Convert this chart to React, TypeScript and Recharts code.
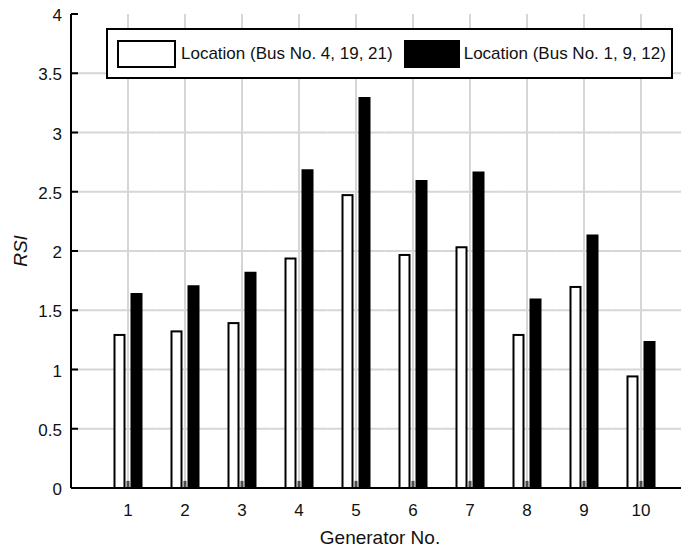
import React from 'react';
import { BarChart, Bar, XAxis, YAxis, Legend } from 'recharts';

const generators = ['1', '2', '3', '4', '5', '6', '7', '8', '9', '10'];
const locationA = [1.3, 1.33, 1.4, 1.945, 2.48, 1.975, 2.04, 1.3, 1.705, 0.95];
const locationB = [1.645, 1.71, 1.825, 2.69, 3.3, 2.6, 2.67, 1.6, 2.14, 1.24];
const baseMark = [0.06, 0.06, 0.06, 0.06, 0.06, 0.06, 0.06, 0.06, 0.06, 0.06];
const yTicks = [0, 0.5, 1, 1.5, 2, 2.5, 3, 3.5, 4];
const gridY = [0.5, 1, 1.5, 2, 2.5, 3, 3.5];
const seriesNames = ['Location (Bus No. 4, 19, 21)', 'Location (Bus No. 1, 9, 12)'];

const data = generators.map((g, i) => ({
  gen: g,
  a: locationA[i],
  c: baseMark[i],
  b: locationB[i],
}));

const FONT = '"Liberation Sans", Arial, Helvetica, sans-serif';
const GRID = '#d6d6d6';
const W_A = 12;
const W_C = 3;
const W_B = 12;
const GAP = 1;
const HALF_BAND = 28.5;
const Y_MAX = 4;

const YTick = (props: any) => {
  const { x, y, payload } = props;
  return (
    <g>
      <line x1={x} x2={x + 7} y1={y} y2={y} stroke="#000" strokeWidth={2} />
      <text x={x - 9} y={y} dy={7} textAnchor="end" fontSize={17} fontFamily={FONT} fill="#111">
        {payload.value}
      </text>
    </g>
  );
};

const XTick = (props: any) => {
  const { x, y, payload } = props;
  return (
    <text x={x} y={y + 28} textAnchor="middle" fontSize={17} fontFamily={FONT} fill="#111">
      {payload.value}
    </text>
  );
};

const TopTick = (props: any) => {
  const { x, y } = props;
  return <line x1={x} x2={x} y1={y} y2={y + 7} stroke="#000" strokeWidth={2} />;
};

// White bar; it also draws the grid of its own category band beneath itself
const WhiteBar = (props: any) => {
  const { x, y, width, height, payload } = props;
  if (!height || height <= 0) return null;
  const val = payload && typeof payload.a === 'number' ? payload.a : 0;
  let idx = typeof props.index === 'number' ? props.index : -1;
  if (idx < 0 && payload) idx = generators.indexOf(payload.gen);
  const baseY = y + height;
  const k = val > 0 ? height / val : 0;
  const center = x + W_A + GAP + W_C / 2;
  const left = center - HALF_BAND - (idx === 0 ? HALF_BAND : 0);
  const right = center + HALF_BAND + (idx === generators.length - 1 ? HALF_BAND : 0);
  return (
    <g>
      {k > 0 &&
        gridY.map((v) => (
          <line
            key={v}
            x1={left}
            x2={right}
            y1={baseY - v * k}
            y2={baseY - v * k}
            stroke={GRID}
            strokeWidth={2}
          />
        ))}
      {k > 0 && (
        <line x1={center} x2={center} y1={baseY - Y_MAX * k} y2={baseY} stroke={GRID} strokeWidth={2} />
      )}
      <rect
        x={x + 1}
        y={y + 1}
        width={Math.max(width - 2, 0)}
        height={Math.max(height - 1, 0)}
        fill="#fff"
        stroke="#000"
        strokeWidth={2}
      />
    </g>
  );
};

const LegendBox = () => (
  <div
    style={{
      boxSizing: 'border-box',
      width: 567,
      height: 51,
      border: '2px solid #000',
      background: '#fff',
      display: 'flex',
      alignItems: 'center',
      paddingLeft: 9,
      fontFamily: FONT,
      fontSize: 17,
      color: '#111',
      whiteSpace: 'nowrap',
    }}
  >
    <div
      style={{
        boxSizing: 'border-box',
        width: 59,
        height: 28,
        border: '2.5px solid #000',
        background: '#fff',
        marginRight: 5,
      }}
    />
    <span>{seriesNames[0]}</span>
    <div
      style={{
        boxSizing: 'border-box',
        width: 56,
        height: 28,
        background: '#000',
        marginLeft: 11,
        marginRight: 4,
      }}
    />
    <span>{seriesNames[1]}</span>
  </div>
);

export default function App() {
  return (
    <div style={{ width: 689, height: 551, overflow: 'hidden', position: 'relative', margin: '-8px 0 0 -8px' }}>
      <BarChart
        width={708}
        height={551}
        data={data}
        margin={{ top: 14, right: 10, left: 0, bottom: 0 }}
        barGap={GAP}
      >
        <XAxis
          dataKey="gen"
          height={63}
          padding={{ left: HALF_BAND, right: HALF_BAND }}
          tickSize={0}
          tickMargin={0}
          tick={<XTick />}
          axisLine={{ stroke: '#000', strokeWidth: 2 }}
          tickLine={false}
          interval={0}
          label={{
            content: () => (
              <text x={380} y={544} textAnchor="middle" fontSize={19} fontFamily={FONT} fill="#111">
                Generator No.
              </text>
            ),
          }}
        />
        <XAxis
          xAxisId="top"
          dataKey="gen"
          orientation="top"
          height={0}
          padding={{ left: HALF_BAND, right: HALF_BAND }}
          tickSize={0}
          tickMargin={0}
          tick={<TopTick />}
          axisLine={{ stroke: '#000', strokeWidth: 2 }}
          tickLine={false}
          interval={0}
        />
        <YAxis
          width={71}
          domain={[0, Y_MAX]}
          ticks={yTicks}
          tickSize={0}
          tickMargin={0}
          tick={<YTick />}
          axisLine={{ stroke: '#000', strokeWidth: 2 }}
          tickLine={false}
          interval={0}
          label={{
            content: () => (
              <text
                x={0}
                y={0}
                transform="translate(27 251) rotate(-90)"
                textAnchor="middle"
                fontSize={19}
                fontStyle="italic"
                fontFamily={FONT}
                fill="#111"
              >
                RSI
              </text>
            ),
          }}
        />
        <Legend
          layout="horizontal"
          verticalAlign="middle"
          align="center"
          wrapperStyle={{ top: 28, left: 106, width: 567, height: 51 }}
          content={() => <LegendBox />}
        />
        <Bar dataKey="a" barSize={W_A} shape={<WhiteBar />} isAnimationActive={false} />
        <Bar dataKey="c" barSize={W_C} fill="#4d4d4d" legendType="none" isAnimationActive={false} />
        <Bar dataKey="b" barSize={W_B} fill="#000" isAnimationActive={false} />
      </BarChart>
    </div>
  );
}
